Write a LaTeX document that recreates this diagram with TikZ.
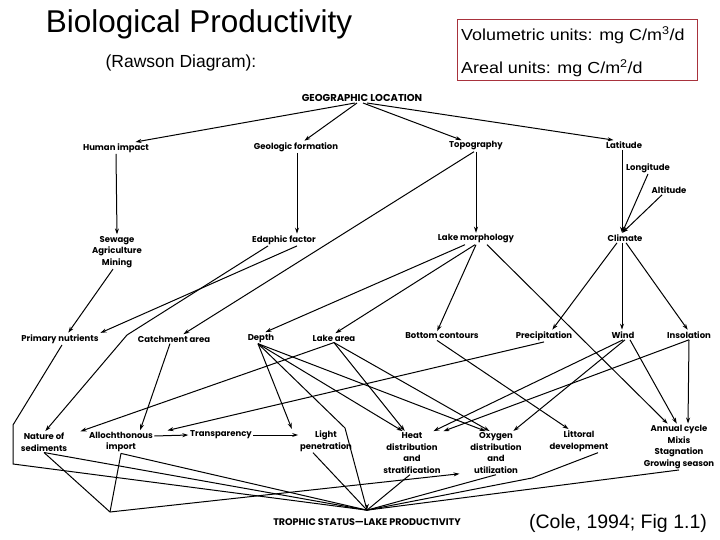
\documentclass[tikz,border=0pt]{standalone}
\usepackage{fontspec}
\setmainfont{Liberation Sans}
\newfontfamily\diagfont{Poppins}
\usetikzlibrary{arrows.meta,calc}
\definecolor{boxred}{HTML}{A8323C}
\begin{document}
\begin{tikzpicture}[x=1pt,y=-1pt,
  lbl/.style={font=\diagfont\bfseries\fontsize{8.5}{11.5}\selectfont, inner sep=1.2pt, align=center},
  caps/.style={font=\diagfont\bfseries\fontsize{10}{12}\selectfont, inner sep=1.2pt},
  conn/.style={line width=1pt, -{Stealth[length=6pt,width=4pt]}, shorten >=0.5pt},
  plainline/.style={line width=1pt},
  ]
\fill[white] (0,0) rectangle (720,540);
\useasboundingbox (0,0) rectangle (720,540);

% titles
\node[font=\fontsize{31.5}{36}\selectfont] (title) at (199,24) {Biological Productivity};
\node[font=\fontsize{17.5}{20}\selectfont] (sub) at (181,63) {(Rawson Diagram):};
\node[draw=boxred, line width=0.6pt, minimum width=240pt, minimum height=61pt, anchor=north west, inner sep=0pt] (units) at (457,19) {};
\node[anchor=west, font=\fontsize{16}{18}\selectfont, inner sep=0pt] (vol) at (461,35) {\scalebox{1.12}[1]{Volumetric units: mg C/m\textsuperscript{3}/d}};
\node[anchor=west, font=\fontsize{16}{18}\selectfont, inner sep=0pt] (areal) at (461,68) {\scalebox{1.12}[1]{Areal units: mg C/m\textsuperscript{2}/d}};
\node[font=\fontsize{19.5}{22}\selectfont] (cole) at (618,523) {(Cole, 1994; Fig 1.1)};

% diagram nodes
\node[caps] (geo) at (362,98) {GEOGRAPHIC LOCATION};
\node[lbl] (human) at (116,148) {Human impact};
\node[lbl] (geol) at (296,147) {Geologic formation};
\node[lbl] (topo) at (476,146) {Topography};
\node[lbl] (lat) at (624,145) {Latitude};
\node[lbl] (long) at (648,168) {Longitude};
\node[lbl] (alt) at (669,190) {Altitude};
\node[lbl] (sewage) at (117,252) {Sewage\\Agriculture\\Mining};
\node[lbl] (edaph) at (284,240) {Edaphic factor};
\node[lbl] (lakem) at (476,239) {Lake morphology};
\node[lbl] (climate) at (625,238) {Climate};
\node[lbl] (prim) at (60,339) {Primary nutrients};
\node[lbl] (catch) at (174,339) {Catchment area};
\node[lbl] (depth) at (261,338) {Depth};
\node[lbl] (larea) at (334,338) {Lake area};
\node[lbl] (bottom) at (442,336) {Bottom contours};
\node[lbl] (precip) at (544,336) {Precipitation};
\node[lbl] (wind) at (623,335) {Wind};
\node[lbl] (insol) at (689,335) {Insolation};
\node[lbl] (nature) at (44,442) {Nature of\\sediments};
\node[lbl] (alloch) at (121,442) {Allochthonous\\import};
\node[lbl] (transp) at (221,435) {Transparency};
\node[lbl] (light) at (326,441) {Light\\penetration};
\node[lbl] (heat) at (412,453) {Heat\\distribution\\and\\stratification};
\node[lbl] (oxygen) at (496,453) {Oxygen\\distribution\\and\\utilization};
\node[lbl] (littoral) at (579,441) {Littoral\\development};
\node[lbl] (annual) at (679,447) {Annual cycle\\Mixis\\Stagnation\\Growing season};
\node[caps, font=\diagfont\bfseries\fontsize{9.6}{12}\selectfont] (trophic) at (367,522) {TROPHIC STATUS—LAKE PRODUCTIVITY};

% bend points
\coordinate (bEd) at (127,335);
\coordinate (bPa) at (13,425);
\coordinate (bPb) at (13,464);
\coordinate (bDe) at (345,428);
\coordinate (bNa) at (110,512);
\coordinate (bLi) at (532,478);
\coordinate (tp) at ([yshift=7pt]trophic.north);

% upper connectors
\draw[conn] ([xshift=-7pt]geo.south) -- ([xshift=19pt]human.north);
\draw[conn] ([xshift=-5pt]geo.south) -- ([xshift=8pt]geol.north);
\draw[conn] ([xshift=1pt]geo.south) -- ([xshift=-14pt]topo.north);
\draw[conn] ([xshift=5pt]geo.south) -- ([xshift=-10pt]lat.north);
\draw[conn] (human.south) -- (sewage.north);
\draw[conn] ([xshift=1pt]geol.south) -- ([xshift=13pt]edaph.north);
\draw[conn] (topo.south) -- (lakem.north);
\draw[conn] ([xshift=-2pt]topo.south) -- ([xshift=9pt]catch.north);
\draw[conn] ([xshift=-2pt]lat.south) -- ([xshift=-3pt]climate.north);
\draw[conn] (long.south) -- ([xshift=-3pt]climate.north);
\draw[conn] ([xshift=-7pt]alt.south) -- ([xshift=-3pt]climate.north);
\draw[conn] ([xshift=-4pt]sewage.south) -- ([xshift=8pt]prim.north);
\draw[conn] ([xshift=-16pt]edaph.south) -- (bEd) -- ([xshift=1pt]nature.north);
\draw[conn] ([xshift=13pt]edaph.south) -- ([xshift=40pt]prim.north);
\draw[conn] ([xshift=-11pt]lakem.south) -- ([xshift=4pt]depth.north);
\draw[conn] ([xshift=-1pt]lakem.south) -- ([xshift=1pt]larea.north);
\draw[conn] (lakem.south) -- ([xshift=-5pt]bottom.north);
\draw[conn] ([xshift=11pt]lakem.south) -- ([xshift=-11pt]annual.north);
\draw[conn] ([xshift=-8pt]climate.south) -- ([xshift=8pt]precip.north);
\draw[conn] ([xshift=-3pt]climate.south) -- ([xshift=-1pt]wind.north);
\draw[conn] ([xshift=1pt]climate.south) -- ([xshift=-1pt]insol.north);

% lower connectors
\draw[plainline] ([xshift=2pt]prim.south) -- (bPa) -- (bPb) -- (tp);
\draw[conn] ([xshift=-4pt]catch.south) -- ([xshift=19pt]alloch.north);
\draw[conn] (larea.south) -- ([xshift=36pt]nature.north);
\draw[conn] (precip.south) -- ([xshift=46pt]alloch.north);
\draw[conn] ([xshift=-3pt]depth.south) -- ([xshift=-34pt]light.north);
\draw[plainline] ([xshift=-3pt]depth.south) -- (bDe) -- (tp);
\draw[conn] ([xshift=-3pt]depth.south) -- ([xshift=-9pt]heat.north);
\draw[conn] ([xshift=-3pt]depth.south) -- ([xshift=-10pt]oxygen.north);
\draw[conn] (larea.south) -- ([xshift=-7pt]heat.north);
\draw[conn] (larea.south) -- ([xshift=-6pt]oxygen.north);
\draw[conn] ([xshift=-5pt]bottom.south) -- ([xshift=-10pt]littoral.north);
\draw[conn] (wind.south) -- ([xshift=21pt]heat.north);
\draw[conn] ([xshift=2pt]wind.south) -- ([xshift=17pt]oxygen.north);
\draw[conn] ([xshift=7pt]wind.south) -- ([xshift=-2pt]annual.north);
\draw[conn] (insol.south) -- ([xshift=31pt]heat.north);
\draw[conn] (insol.south) -- ([xshift=9pt]annual.north);
\draw[conn] ([yshift=6pt]alloch.east) -- (transp.west);
\draw[conn] (transp.east) -- ([yshift=6pt]light.west);
\draw[plainline] (nature.south) -- (tp);
\draw[conn] (nature.south) -- (bNa) -- ([xshift=-9pt,yshift=1pt]oxygen.south west);
\draw[plainline] (alloch.south) -- (bNa);
\draw[plainline] (alloch.south) -- (tp);
\draw[plainline] ([xshift=-13pt]light.south) -- (tp);
\draw[plainline] ([xshift=-2pt]heat.south) -- (tp);
\draw[plainline] (oxygen.south) -- (tp);
\draw[plainline] ([xshift=19pt]littoral.south) -- (bLi) -- (tp);
\draw[plainline] (annual.south) -- (tp);
\draw[conn] ([yshift=3pt]tp) -- (tp);
\end{tikzpicture}
\end{document}
